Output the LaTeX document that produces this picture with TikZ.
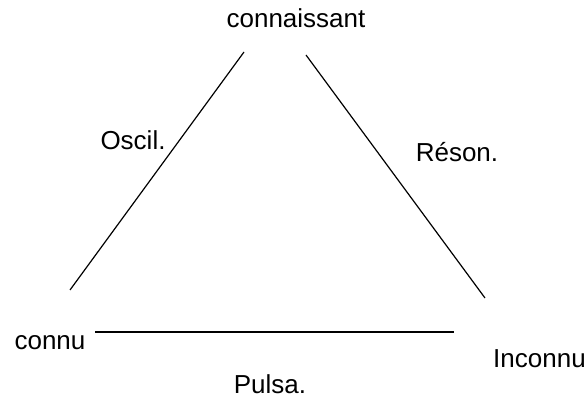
\documentclass[tikz,border=0pt]{standalone}
\usepackage{fontspec}
\setmainfont{Liberation Sans}
\usetikzlibrary{positioning}

\begin{document}
\begin{tikzpicture}[
  x=1pt, y=-1pt,
  pole/.style={
    inner sep=0pt, anchor=base,
    font=\fontsize{26}{31}\selectfont
  },
  edgelabel/.style={
    inner sep=0pt, anchor=base,
    font=\fontsize{26}{31}\selectfont
  },
  side/.style={line width=1.2pt, black}
]
\useasboundingbox (0,0) rectangle (587,398);

%% === POLES ===
\node[pole] (knower) at (296,28) {connaissant};
\node[pole] (known) at (50,350) {connu};
\node[pole, anchor=base west] (unknown) at (493,368) {Inconnu};

%% === EXTREMITES DES COTES ===
\coordinate (topL) at (244,52);
\coordinate (botL) at (70,290);
\coordinate (topR) at (306,55);
\coordinate (botR) at (485,298);
\coordinate (baseL) at (95,332);
\coordinate (baseR) at (454,332);

\draw[side] (topL) -- (botL);
\draw[side] (topR) -- (botR);
\draw[side] (baseL) -- (baseR);

%% === ETIQUETTES ===
\node[edgelabel] (oscil) at (133,150) {Oscil.};
\node[edgelabel] (reson) at (457,162) {Réson.};
\node[edgelabel] (pulsa) at (270,393) {Pulsa.};

\end{tikzpicture}
\end{document}
